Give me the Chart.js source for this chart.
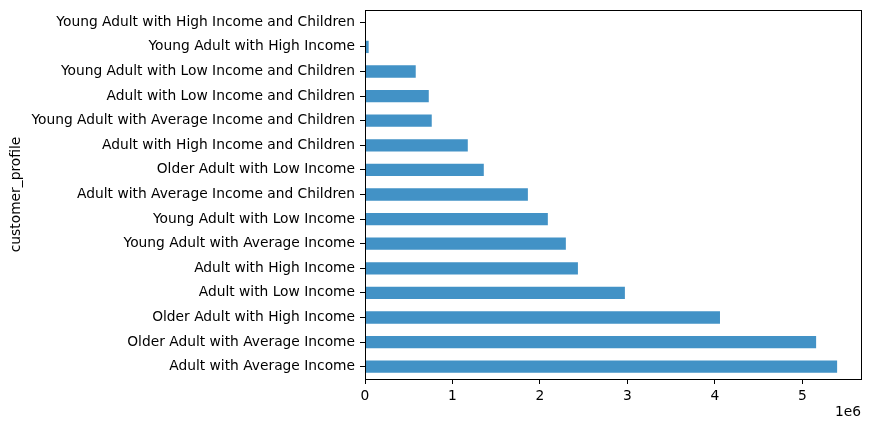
<!DOCTYPE html>
<html>
<head>
<meta charset="utf-8">
<script src="https://cdn.jsdelivr.net/npm/chart.js@4/dist/chart.umd.min.js"></script>
<style>
  html, body { margin: 0; padding: 0; background: #fff; }
  #wrap { width: 870px; height: 431px; }
</style>
</head>
<body>
<div id="wrap"><canvas id="chart" width="870" height="431"></canvas></div>
<script>
// customer profiles, top to bottom as in the picture
const profiles = [
  'Young Adult with High Income and Children',
  'Young Adult with High Income',
  'Young Adult with Low Income and Children',
  'Adult with Low Income and Children',
  'Young Adult with Average Income and Children',
  'Adult with High Income and Children',
  'Older Adult with Low Income',
  'Adult with Average Income and Children',
  'Young Adult with Low Income',
  'Young Adult with Average Income',
  'Adult with High Income',
  'Adult with Low Income',
  'Older Adult with High Income',
  'Older Adult with Average Income',
  'Adult with Average Income'
];

const totals = [
  3000, 42000, 580000, 729000, 763000, 1175000, 1358000, 1862000,
  2090000, 2296000, 2434000, 2971000, 4058000, 5157000, 5397000
];

const xTicks = [0, 1, 2, 3, 4, 5];
const xScaleLabel = '1e6';

const FONT = "'DejaVu Sans', sans-serif";
const FSIZE = 13.8;

// matplotlib-like full frame plus the offset text under the x axis
const framePlugin = {
  id: 'frame',
  afterDraw(chart) {
    const { ctx, chartArea: a } = chart;
    ctx.save();
    ctx.strokeStyle = '#000';
    ctx.lineWidth = 1;
    ctx.strokeRect(Math.round(a.left) + 0.5, Math.round(a.top) + 0.5,
      Math.round(a.right - a.left), Math.round(a.bottom - a.top));
    ctx.fillStyle = '#000';
    ctx.font = FSIZE + 'px ' + FONT;
    ctx.textAlign = 'right';
    ctx.textBaseline = 'middle';
    ctx.fillText(xScaleLabel, a.right, 412);
    ctx.restore();
  }
};

new Chart(document.getElementById('chart'), {
  type: 'bar',
  data: {
    labels: profiles,
    datasets: [{
      data: totals,
      backgroundColor: '#4292c6',
      borderWidth: 0,
      categoryPercentage: 1,
      barPercentage: 0.5
    }]
  },
  plugins: [framePlugin],
  options: {
    indexAxis: 'y',
    responsive: false,
    animation: false,
    layout: { padding: { left: 0, right: 9, top: 10, bottom: 0 } },
    plugins: {
      legend: { display: false },
      tooltip: { enabled: false }
    },
    scales: {
      x: {
        min: 0,
        max: 5670000,
        afterBuildTicks(scale) {
          scale.ticks = xTicks.map(v => ({ value: v * 1e6 }));
        },
        afterFit(scale) {
          scale.height = 52;
          scale.paddingLeft = 0;
          scale.paddingRight = 0;
        },
        grid: {
          drawOnChartArea: false,
          color: '#000',
          tickLength: 5,
          tickColor: '#000'
        },
        border: { display: false },
        ticks: {
          color: '#000',
          padding: 4,
          font: { family: FONT, size: FSIZE },
          callback: v => String(v / 1e6)
        }
      },
      y: {
        afterFit(scale) {
          scale.width = 365;
          scale.paddingTop = 0;
          scale.paddingBottom = 0;
        },
        grid: {
          drawOnChartArea: false,
          offset: false,
          color: '#000',
          tickLength: 5,
          tickColor: '#000'
        },
        border: { display: false },
        ticks: {
          color: '#000',
          padding: 5,
          autoSkip: false,
          font: { family: FONT, size: FSIZE }
        },
        title: {
          display: true,
          text: 'customer_profile',
          color: '#000',
          padding: { top: 8, bottom: 0 },
          font: { family: FONT, size: FSIZE }
        }
      }
    }
  }
});
</script>
</body>
</html>
